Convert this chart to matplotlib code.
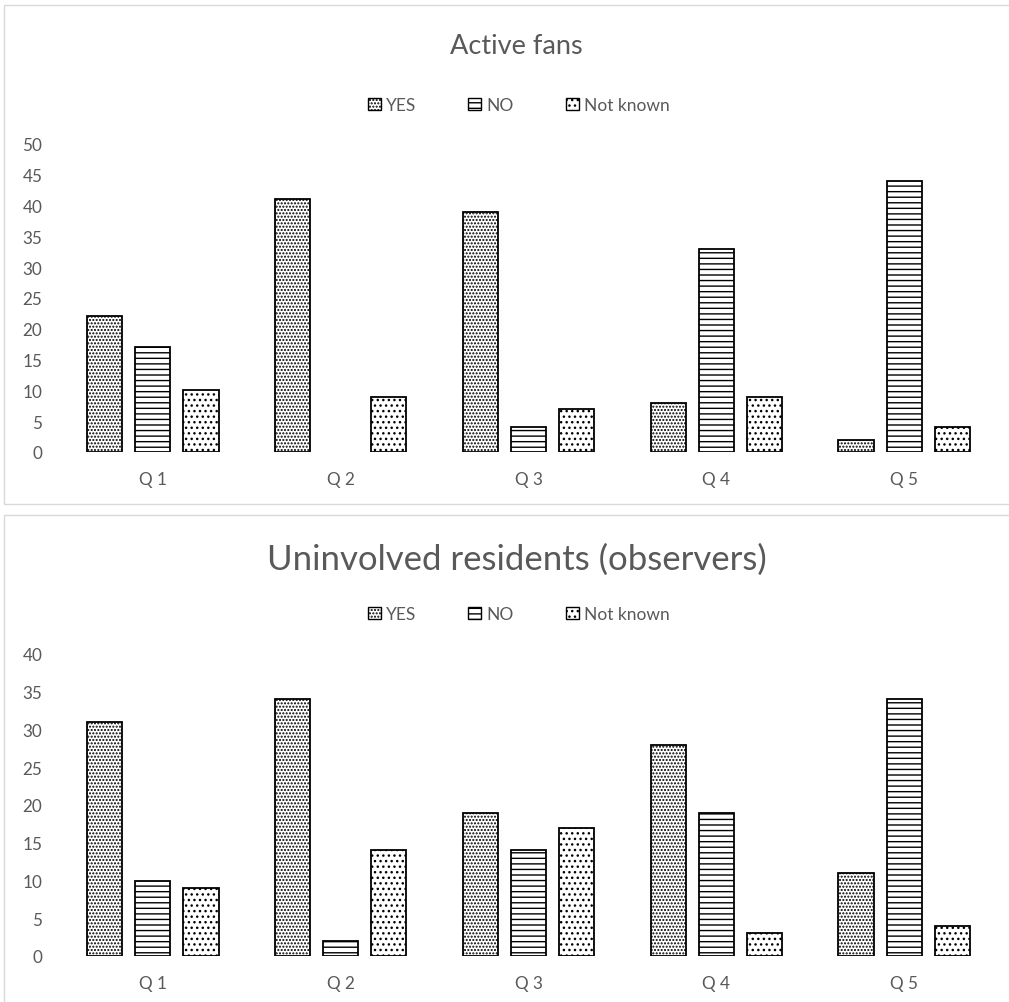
import numpy as np
import matplotlib
matplotlib.use("Agg")
import matplotlib.pyplot as plt
from matplotlib.patches import Rectangle, Patch

plt.rcParams['font.family'] = ['Lato', 'DejaVu Sans']
plt.rcParams['hatch.linewidth'] = 1.0

categories = ['Q 1', 'Q 2', 'Q 3', 'Q 4', 'Q 5']
series = ['YES', 'NO', 'Not known']

fans_yes = [22, 41, 39, 8, 2]
fans_no = [17, 0, 4, 33, 44]
fans_nk = [10, 9, 7, 9, 4]

res_yes = [31, 34, 19, 28, 11]
res_no = [10, 2, 14, 19, 34]
res_nk = [9, 14, 17, 3, 4]

hatches = ['.....', '---', '...']
txt = '#595959'

fig = plt.figure(figsize=(10.09, 10.03), dpi=100)

# panel frames
fig.patches.append(Rectangle((4/1009, 1-505/1003), 1.1, 499/1003, transform=fig.transFigure,
                             fill=False, edgecolor='#d9d9d9', lw=1))
fig.patches.append(Rectangle((4/1009, -0.05), 1.1, 1-516/1003+0.05, transform=fig.transFigure,
                             fill=False, edgecolor='#d9d9d9', lw=1))


def panel(rect, data, ymax, title, title_y, title_size, leg_y):
    ax = fig.add_axes(rect)
    x = np.arange(len(categories))
    w = 0.187
    off = 0.256
    for i, (vals, h) in enumerate(zip(data, hatches)):
        bars = ax.bar(x + (i - 1) * off, vals, w, facecolor='white', edgecolor='black',
                      hatch=h, lw=1.3, zorder=2)
        # Excel draws nothing for a zero bar
        for b, v in zip(bars, vals):
            if v == 0:
                b.set_visible(False)
    ax.set_xlim(-0.5, len(categories) - 0.5)
    ax.set_ylim(0, ymax)
    ax.set_yticks(np.arange(0, ymax + 1, 5))
    ax.set_xticks(x)
    ax.set_xticklabels(categories)
    ax.tick_params(length=0, labelsize=12.3, colors=txt, pad=14)
    ax.tick_params(axis='y', pad=12)
    for s in ax.spines.values():
        s.set_visible(False)
    fig.text(0.512, title_y, title, ha='center', va='center', fontsize=title_size, color=txt)
    handles = [Patch(facecolor='white', edgecolor='black', hatch=h, lw=1) for h in hatches]
    fig.legend(handles, series, loc='center', bbox_to_anchor=(0.514, leg_y), ncol=3,
               frameon=False, fontsize=12.5, labelcolor=txt, handlelength=0.75,
               handleheight=0.75, handletextpad=0.3, columnspacing=3.0)
    return ax


panel([59/1009, 1-453/1003, 939/1009, 308/1003], [fans_yes, fans_no, fans_nk], 50,
      'Active fans', 1-47/1003, 19.5, 1-106/1003)
panel([59/1009, 1-957/1003, 939/1009, 302/1003], [res_yes, res_no, res_nk], 40,
      'Uninvolved residents (observers)', 1-560/1003, 25, 1-615/1003)

fig.savefig('out.png', dpi=100)
